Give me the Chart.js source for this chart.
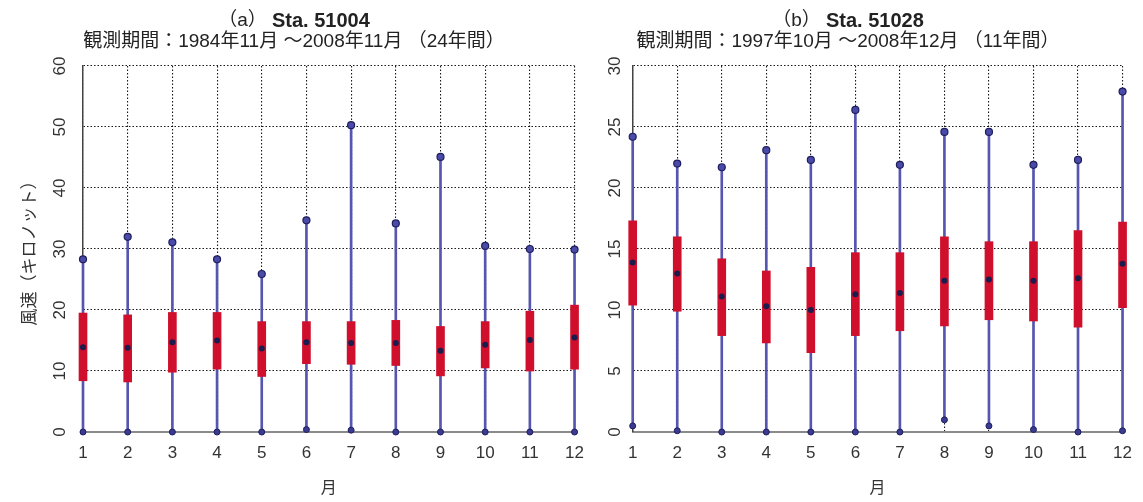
<!DOCTYPE html>
<html>
<head>
<meta charset="utf-8">
<script src="https://cdn.jsdelivr.net/npm/chart.js@4.4.1/dist/chart.umd.min.js"></script>
<style>
  html, body { margin: 0; padding: 0; background: #fff; }
  #wrap { position: relative; width: 1143px; height: 502px; }
  .pane { position: absolute; top: 0; height: 502px; }
</style>
</head>
<body>
<div id="wrap">
  <div class="pane" style="left:0;width:595px"><canvas id="chartA"></canvas></div>
  <div class="pane" style="left:595px;width:548px"><canvas id="chartB"></canvas></div>
</div>
<script>
const months = ['1', '2', '3', '4', '5', '6', '7', '8', '9', '10', '11', '12'];

// (a) Sta. 51004
const maxA = [28.3, 32.0, 31.1, 28.3, 25.9, 34.7, 50.3, 34.2, 45.1, 30.5, 30.0, 29.9];
const q3A  = [19.5, 19.2, 19.6, 19.6, 18.1, 18.1, 18.1, 18.3, 17.3, 18.1, 19.8, 20.8];
const medA = [13.9, 13.8, 14.7, 15.0, 13.7, 14.7, 14.6, 14.6, 13.3, 14.3, 15.1, 15.5];
const q1A  = [8.4, 8.2, 9.8, 10.3, 9.1, 11.2, 11.1, 10.9, 9.2, 10.5, 10.0, 10.3];
const minA = [0, 0, 0, 0, 0, 0.4, 0.3, 0, 0, 0, 0, 0];

// (b) Sta. 51028
const maxB = [24.2, 22.0, 21.7, 23.1, 22.3, 26.4, 21.9, 24.6, 24.6, 21.9, 22.3, 27.9];
const q3B  = [17.3, 16.0, 14.2, 13.2, 13.5, 14.7, 14.7, 16.0, 15.6, 15.6, 16.5, 17.2];
const medB = [13.9, 13.0, 11.1, 10.3, 10.0, 11.3, 11.4, 12.4, 12.5, 12.4, 12.6, 13.8];
const q1B  = [10.4, 9.9, 7.9, 7.3, 6.5, 7.9, 8.3, 8.7, 9.2, 9.1, 8.6, 10.2];
const minB = [0.5, 0.1, 0, 0, 0, 0, 0, 1.0, 0.5, 0.2, 0, 0.1];

const FONT = '"Liberation Sans", "Noto Sans CJK JP", sans-serif';
Chart.defaults.font.family = FONT;
Chart.defaults.color = '#333';

// title + subtitle, "(a)" in normal weight and station name in bold
const headerPlugin = {
  id: 'header',
  afterDraw(chart, args, opts) {
    const ctx = chart.ctx;
    ctx.save();
    ctx.fillStyle = '#222';
    ctx.textBaseline = 'middle';
    ctx.font = '19px ' + FONT;
    const w1 = ctx.measureText(opts.tag).width;
    ctx.font = 'bold 20px ' + FONT;
    const w2 = ctx.measureText(opts.station).width;
    let x = opts.cx - (w1 + w2) / 2;
    ctx.textAlign = 'left';
    ctx.font = '19px ' + FONT;
    ctx.fillText(opts.tag, x, 21);
    ctx.font = 'bold 20px ' + FONT;
    ctx.fillText(opts.station, x + w1, 21);
    ctx.font = '19px ' + FONT;
    ctx.textAlign = 'center';
    ctx.fillText(opts.period, opts.cx, 42);
    ctx.restore();
  }
};

// y tick labels are turned on their side
const sideTicks = {
  id: 'sideTicks',
  afterDraw(chart, args, opts) {
    const ctx = chart.ctx;
    const y = chart.scales.y;
    ctx.save();
    ctx.font = '17px ' + FONT;
    ctx.fillStyle = '#333';
    ctx.textAlign = 'center';
    ctx.textBaseline = 'middle';
    for (const t of y.ticks) {
      ctx.save();
      ctx.translate(chart.chartArea.left - opts.gap, y.getPixelForValue(t.value));
      ctx.rotate(-Math.PI / 2);
      ctx.fillText(String(t.value), 0, 0);
      ctx.restore();
    }
    ctx.restore();
  }
};

function makeChart(id, d, cfg) {
  const whisker = '#5656b0';
  const gridColor = 'rgba(0,0,0,0.9)';
  return new Chart(document.getElementById(id), {
    type: 'bar',
    data: {
      labels: months,
      datasets: [
        {type: 'line', data: d.med, showLine: false, pointRadius: 3, pointBackgroundColor: '#1b1b4d',
         pointBorderWidth: 0, clip: false, order: 1},
        {type: 'line', data: d.max, showLine: false, pointRadius: 3.5, pointBackgroundColor: '#4a4aa8',
         pointBorderColor: '#1e1e5e', pointBorderWidth: 1.2, clip: false, order: 2},
        {type: 'line', data: d.min, showLine: false, pointRadius: 3, pointBackgroundColor: '#3a3a90',
         pointBorderColor: '#1e1e5e', pointBorderWidth: 1, clip: false, order: 2},
        {type: 'bar', data: months.map((m, i) => [d.q1[i], d.q3[i]]), backgroundColor: '#cf0f2b',
         barThickness: 8, grouped: false, borderWidth: 0, clip: false, order: 3},
        {type: 'bar', data: months.map((m, i) => [d.min[i], d.max[i]]), backgroundColor: whisker,
         barThickness: 2, grouped: false, borderWidth: 0, clip: false, order: 4},
      ]
    },
    options: {
      responsive: true,
      maintainAspectRatio: false,
      animation: false,
      events: [],
      layout: {padding: {top: 66, right: cfg.padRight, left: 0, bottom: 0}},
      plugins: {
        legend: {display: false},
        tooltip: {enabled: false},
        header: cfg.header,
        sideTicks: {gap: cfg.tickGap},
      },
      scales: {
        x: {
          type: 'category',
          offset: false,
          grid: {offset: false, color: gridColor, lineWidth: 1.1, drawTicks: false},
          border: {display: true, color: '#8a8a8a', width: 2, dash: [1.5, 2]},
          ticks: {font: {size: 17}, color: '#333', padding: 11, maxRotation: 0, autoSkip: false},
          title: {display: true, text: '月', font: {size: 16}, color: '#333', padding: {top: 0, bottom: 3.5}},
          afterFit: s => { s.height = 70; },
        },
        y: {
          min: 0,
          max: cfg.yMax,
          grid: {color: gridColor, lineWidth: 1.1, drawTicks: false},
          border: {display: true, color: '#444', width: 1.5, dash: [1.5, 2]},
          ticks: {display: false, stepSize: cfg.yStep},
          title: {display: cfg.yTitle, text: '風速（キロノット）', font: {size: 17}, color: '#333', padding: {top: 20}},
          afterFit: s => { s.width = cfg.yWidth; },
        }
      }
    },
    plugins: [headerPlugin, sideTicks]
  });
}

makeChart('chartA', {max: maxA, q3: q3A, med: medA, q1: q1A, min: minA}, {
  padRight: 16.5, yMax: 60, yStep: 10, yWidth: 83, tickGap: 23, yTitle: true,
  header: {tag: '（a） ', station: 'Sta. 51004', period: '観測期間：1984年11月 ～2008年11月 （24年間）', cx: 294},
});

makeChart('chartB', {max: maxB, q3: q3B, med: medB, q1: q1B, min: minB}, {
  padRight: 14.5, yMax: 30, yStep: 5, yWidth: 37.7, tickGap: 17, yTitle: false,
  header: {tag: '（b） ', station: 'Sta. 51028', period: '観測期間：1997年10月 ～2008年12月 （11年間）', cx: 253},
});
</script>
</body>
</html>
